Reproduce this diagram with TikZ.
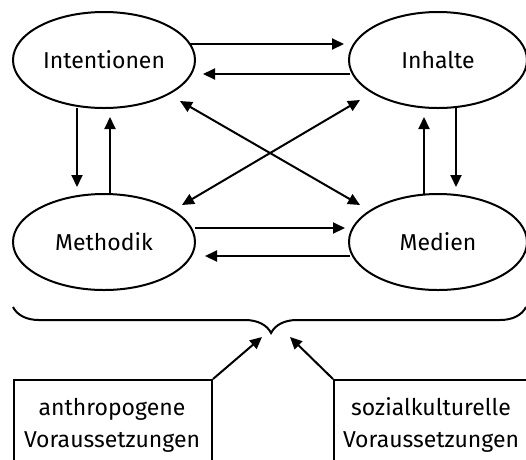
\documentclass[tikz,border=0pt]{standalone}
\usepackage{fontspec}
\setmainfont{Fira Sans}
\usetikzlibrary{arrows.meta,decorations.pathreplacing,shapes.geometric}
\begin{document}
\begin{tikzpicture}[x=1pt,y=-1pt,
  every node/.style={font=\fontsize{23}{32}\selectfont},
  oval/.style={draw,line width=2pt,ellipse,minimum width=182pt,minimum height=96pt,inner sep=0pt},
  conn/.style={line width=2pt,-{Triangle[length=12pt,width=11pt]}},
  both/.style={line width=2pt,{Triangle[length=12pt,width=11pt]}-{Triangle[length=12pt,width=11pt]}},
  frame/.style={draw,line width=2pt}]
\useasboundingbox (0,0) rectangle (526,459);
\clip (0,0) rectangle (526,459);

% the four elements
\node[oval] (int) at (104,60) {Intentionen};
\node[oval,minimum width=178pt] (inh) at (438,60) {Inhalte};
\node[oval] (met) at (104,242) {Methodik};
\node[oval,minimum width=178pt] (med) at (438,242) {Medien};

% horizontal links
\coordinate (a1) at (190,44);  \coordinate (a2) at (344,44);
\coordinate (b1) at (350,74);  \coordinate (b2) at (203,74);
\draw[conn] (a1) -- (a2);
\draw[conn] (b1) -- (b2);
\coordinate (c1) at (195,228); \coordinate (c2) at (345,228);
\coordinate (d1) at (350,256); \coordinate (d2) at (205,256);
\draw[conn] (c1) -- (c2);
\draw[conn] (d1) -- (d2);

% vertical links
\coordinate (e1) at (77,108);  \coordinate (e2) at (77,187);
\coordinate (f1) at (110,194); \coordinate (f2) at (110,117);
\draw[conn] (e1) -- (e2);
\draw[conn] (f1) -- (f2);
\coordinate (g1) at (424,194); \coordinate (g2) at (424,117);
\coordinate (h1) at (456,108); \coordinate (h2) at (456,187);
\draw[conn] (g1) -- (g2);
\draw[conn] (h1) -- (h2);

% diagonal links
\coordinate (i1) at (180,101); \coordinate (i2) at (360,205);
\coordinate (j1) at (360,100); \coordinate (j2) at (182,205);
\draw[both] (i1) -- (i2);
\draw[both] (j1) -- (j2);

% brace over the whole field
\draw[line width=2pt,decorate,decoration={brace,mirror,amplitude=26pt,aspect=0.503}]
  (13,307) -- (526,307);

% preconditions
\node[frame,minimum width=198pt,minimum height=100pt,anchor=north west,inner sep=0pt] (ant) at (13,379) {};
\node[frame,minimum width=200pt,minimum height=100pt,anchor=north west,inner sep=0pt] (soz) at (333,379) {};
\node[align=center] (tant) at (112,425) {anthropogene\\Voraussetzungen};
\node[align=center] (tsoz) at (431,425) {sozialkulturelle\\Voraussetzungen};
\coordinate (k) at (262,337);
\coordinate (l) at (290,337);
\draw[conn] (ant.north east) -- (k);
\draw[conn] (soz.north west) -- (l);
\end{tikzpicture}
\end{document}
